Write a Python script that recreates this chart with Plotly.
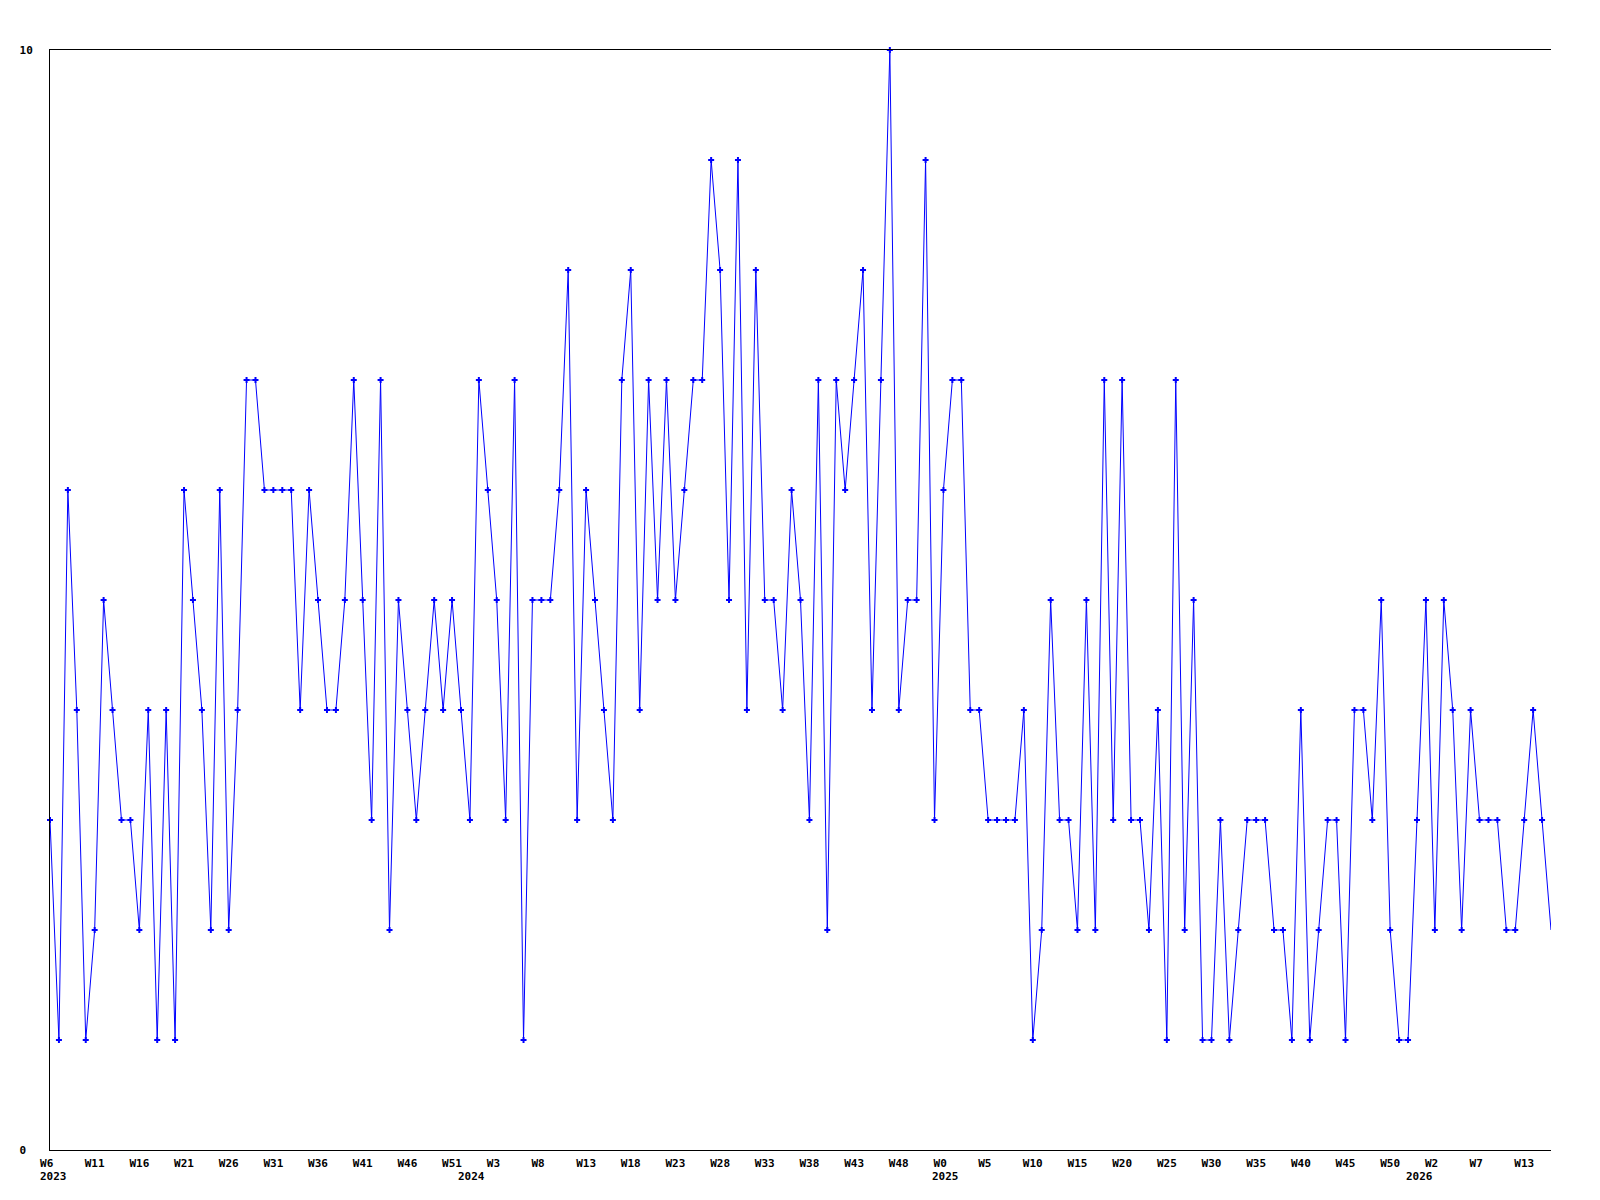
import plotly.graph_objects as go

# Weekly values, 2023 W6 .. 2026 W16
values = [
    3, 1, 6, 4, 1, 2, 5, 4, 3, 3,
    2, 4, 1, 4, 1, 6, 5, 4, 2, 6,
    2, 4, 7, 7, 6, 6, 6, 6, 4, 6,
    5, 4, 4, 5, 7, 5, 3, 7, 2, 5,
    4, 3, 4, 5, 4, 5, 4, 3, 7, 6,
    5, 3, 7, 1, 5, 5, 5, 6, 8, 3,
    6, 5, 4, 3, 7, 8, 4, 7, 5, 7,
    5, 6, 7, 7, 9, 8, 5, 9, 4, 8,
    5, 5, 4, 6, 5, 3, 7, 2, 7, 6,
    7, 8, 4, 7, 10, 4, 5, 5, 9, 3,
    6, 7, 7, 4, 4, 3, 3, 3, 3, 4,
    1, 2, 5, 3, 3, 2, 5, 2, 7, 3,
    7, 3, 3, 2, 4, 1, 7, 2, 5, 1,
    1, 3, 1, 2, 3, 3, 3, 2, 2, 1,
    4, 1, 2, 3, 3, 1, 4, 4, 3, 5,
    2, 1, 1, 3, 5, 2, 5, 4, 2, 4,
    3, 3, 3, 2, 2, 3, 4, 3, 2,
]

tick_labels = [
    "W6", "W11", "W16", "W21", "W26", "W31", "W36", "W41", "W46", "W51",
    "W3", "W8", "W13", "W18", "W23", "W28", "W33", "W38", "W43", "W48",
    "W0", "W5", "W10", "W15", "W20", "W25", "W30", "W35", "W40", "W45",
    "W50", "W2", "W7", "W13",
]
tick_step = 5

year_labels = ["2023", "2024", "2025", "2026"]
year_pos = [0.4, 47.2, 100.2, 153.3]  # week-index where the year label sits

y_ticks = [0, 10]

NB = "\u00a0"
FONT = dict(family="DejaVu Sans Mono", size=11, color="black", weight="bold")

x = list(range(len(values)))
tick_vals = [i * tick_step for i in range(len(tick_labels))]
tick_text = [t + NB * (3 - len(t)) for t in tick_labels]

fig = go.Figure()
fig.add_trace(go.Scatter(
    x=x, y=values, mode="lines",
    line=dict(color="#0000ff", width=1),
    hoverinfo="skip", showlegend=False,
))
fig.add_trace(go.Scatter(
    x=x[:-1], y=values[:-1], mode="markers",
    marker=dict(symbol="cross", size=5, color="#0000ff", line=dict(width=0)),
    cliponaxis=False, hoverinfo="skip", showlegend=False,
))

for lab, pos in zip(year_labels, year_pos):
    fig.add_annotation(
        x=pos, xref="x", y=-0.0245, yref="paper",
        text=lab, showarrow=False, xanchor="center", yanchor="middle",
        font=FONT,
    )

ymax = max(y_ticks)
# page body has an 8px margin, so the figure is placed at (8, 8)
fig.update_layout(
    width=1592, height=1192,
    margin=dict(l=42, r=49, t=42, b=50),
    paper_bgcolor="white", plot_bgcolor="white",
    xaxis=dict(
        range=[0, len(values) - 1],
        showgrid=False, zeroline=False,
        showline=True, linecolor="black", linewidth=1, mirror=True,
        ticks="", tickmode="array", tickvals=tick_vals, ticktext=tick_text,
        tickfont=FONT, tickangle=0, ticklabelstandoff=3,
    ),
    yaxis=dict(
        range=[0, ymax],
        showgrid=False, zeroline=False,
        showline=True, linecolor="black", linewidth=1, mirror=False,
        ticks="", tickmode="array", tickvals=y_ticks,
        ticktext=[str(v) + NB * (2 - len(str(v))) for v in y_ticks],
        tickfont=FONT, ticklabelstandoff=14,
    ),
)

fig.write_html("out.html")
